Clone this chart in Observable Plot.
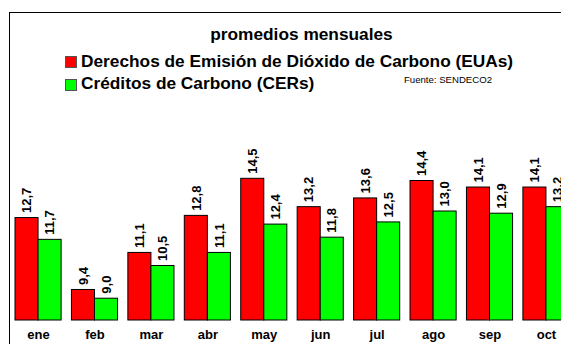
<!DOCTYPE html>
<html>
<head>
<meta charset="utf-8">
<script src="https://cdn.jsdelivr.net/npm/d3@7"></script>
<script src="https://cdn.jsdelivr.net/npm/@observablehq/plot@0.6"></script>
<style>
  html, body { margin: 0; padding: 0; background: #fff; overflow: hidden; }
  body { width: 561px; height: 344px; position: relative; font-family: "Liberation Sans", Arial, sans-serif; }
  #chart { position: absolute; left: 0; top: 0; }
  .frame { position: absolute; left: 9px; top: 12px; width: 600px; height: 400px; border-left: 1.5px solid #000; border-top: 1.5px solid #000; box-sizing: border-box; }
  .title { position: absolute; left: 0; width: 603px; top: 24px; line-height: 20px; text-align: center; font-weight: bold; font-size: 17.3px; color: #000; white-space: nowrap; }
  .leg { position: absolute; left: 81px; font-weight: bold; font-size: 17.3px; line-height: 20px; color: #000; white-space: nowrap; }
  .sw { position: absolute; left: 65px; width: 12px; height: 12px; border: 1px solid #555; box-sizing: border-box; }
  .src { position: absolute; left: 404px; top: 74px; line-height: 12px; font-size: 9.6px; color: #000; white-space: nowrap; }
</style>
</head>
<body>
<div class="frame"></div>
<div id="chart"></div>
<div class="title">promedios mensuales</div>
<div class="sw" style="top:56px;background:#ff0000"></div>
<div class="leg" style="top:50.5px">Derechos de Emisión de Dióxido de Carbono (EUAs)</div>
<div class="sw" style="top:79px;background:#00ff00"></div>
<div class="leg" style="top:73px">Créditos de Carbono (CERs)</div>
<div class="src">Fuente: SENDECO2</div>
<script>
const months = ["ene", "feb", "mar", "abr", "may", "jun", "jul", "ago", "sep", "oct"];
const euas = [12.7, 9.4, 11.1, 12.8, 14.5, 13.2, 13.6, 14.4, 14.1, 14.1];
const cers = [11.7, 9.0, 10.5, 11.1, 12.4, 11.8, 12.5, 13.0, 12.9, 13.2];

const data = months.map((m, i) => ({month: m, eua: euas[i], cer: cers[i]}));
const fmt = v => v.toFixed(1).replace(".", ",");

const half = 23.05;
const chart = Plot.plot({
  width: 561,
  height: 344,
  marginLeft: 0,
  marginRight: 0,
  marginTop: 12,
  marginBottom: 24,
  style: {background: "transparent", fontFamily: "Liberation Sans, Arial, sans-serif"},
  x: {type: "band", domain: months, range: [15, 569], paddingInner: 0.183, paddingOuter: 0, round: false, axis: null},
  y: {domain: [8, 22.13], axis: null},
  marks: [
    Plot.barY(data, {x: "month", y1: 8, y2: "eua", fill: "#ff0000", stroke: "#000", strokeWidth: 1, insetRight: half}),
    Plot.barY(data, {x: "month", y1: 8, y2: "cer", fill: "#00ff00", stroke: "#000", strokeWidth: 1, insetLeft: half}),
    Plot.text(data, {x: "month", y: "eua", text: d => fmt(d.eua), rotate: -90, textAnchor: "start", dx: -11.5, dy: -5, fontSize: 13, fontWeight: "bold", fill: "#000"}),
    Plot.text(data, {x: "month", y: "cer", text: d => fmt(d.cer), rotate: -90, textAnchor: "start", dx: 11.5, dy: -5, fontSize: 13, fontWeight: "bold", fill: "#000"}),
    Plot.text(months, {x: d => d, frameAnchor: "bottom", dy: 18, fontSize: 13, fontWeight: "bold", fill: "#000"})
  ]
});
document.getElementById("chart").appendChild(chart);
</script>
</body>
</html>
